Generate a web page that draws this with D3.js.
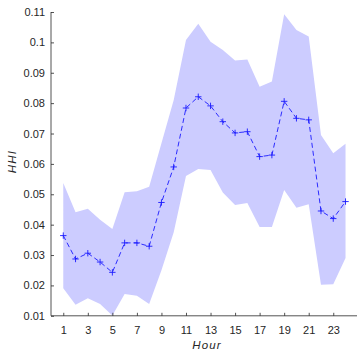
<!DOCTYPE html>
<html>
<head>
<meta charset="utf-8">
<script src="https://cdn.jsdelivr.net/npm/d3@7"></script>
<style>
  html, body { margin: 0; padding: 0; background: #ffffff; }
  svg { display: block; }
  text { font-family: "Liberation Sans", Arial, Helvetica, sans-serif; }
</style>
</head>
<body>
<svg id="chart" width="357" height="351"></svg>
<script>
// Hourly HHI: mean with lower/upper envelope
const hours = d3.range(1, 25);
const meanHHI = [0.0364, 0.0287, 0.0306, 0.0277, 0.0243, 0.0340, 0.0340, 0.0329,
                 0.0473, 0.0590, 0.0784, 0.0821, 0.0791, 0.0739, 0.0702, 0.0706,
                 0.0624, 0.0629, 0.0806, 0.0750, 0.0745, 0.0445, 0.0420, 0.0476];
const upperHHI = [0.0537, 0.0441, 0.0452, 0.0416, 0.0386, 0.0507, 0.0510, 0.0525,
                  0.0668, 0.0810, 0.1008, 0.1061, 0.1002, 0.0975, 0.0940, 0.0944,
                  0.0854, 0.0871, 0.1093, 0.1041, 0.1019, 0.0695, 0.0635, 0.0666];
const lowerHHI = [0.0191, 0.0136, 0.0158, 0.0139, 0.0101, 0.0172, 0.0166, 0.0139,
                  0.0250, 0.0375, 0.0560, 0.0583, 0.0580, 0.0506, 0.0465, 0.0471,
                  0.0392, 0.0392, 0.0514, 0.0456, 0.0467, 0.0202, 0.0204, 0.0290];
const xTicks = [1, 3, 5, 7, 9, 11, 13, 15, 17, 19, 21, 23];
const yTicks = [0.01, 0.02, 0.03, 0.04, 0.05, 0.06, 0.07, 0.08, 0.09, 0.1, 0.11];

const svg = d3.select("#chart");
const axisColor = "#262626";

const x = d3.scaleLinear().domain([0, 25]).range([51, 357.8]);
const y = d3.scaleLinear().domain([0.01, 0.11]).range([315.8, 12]);

const rows = hours.map((h, i) => ({ h, m: meanHHI[i], lo: lowerHHI[i], hi: upperHHI[i] }));

// envelope
svg.append("path")
  .datum(rows)
  .attr("fill", "#ccccff")
  .attr("stroke", "none")
  .attr("d", d3.area().x(d => x(d.h)).y0(d => y(d.lo)).y1(d => y(d.hi)));

// mean line
svg.append("path")
  .datum(rows)
  .attr("fill", "none")
  .attr("stroke", "#1a1aff")
  .attr("stroke-width", 0.9)
  .attr("stroke-dasharray", "5,3")
  .attr("d", d3.line().x(d => x(d.h)).y(d => y(d.m)));

// plus markers
const ms = 3.2;
svg.append("g").selectAll("path")
  .data(rows)
  .join("path")
  .attr("stroke", "#1a1aff")
  .attr("stroke-width", 0.9)
  .attr("fill", "none")
  .attr("d", d => {
    const cx = x(d.h), cy = y(d.m);
    return `M${cx - ms},${cy}H${cx + ms}M${cx},${cy - ms}V${cy + ms}`;
  });

// axes
const xAxis = d3.axisBottom(x).tickValues(xTicks).tickSize(-3).tickPadding(10).tickFormat(d3.format("d"));
const yAxis = d3.axisLeft(y).tickValues(yTicks).tickSize(-3).tickPadding(6).tickFormat(d => String(+d.toFixed(2)));

const gx = svg.append("g").attr("transform", `translate(0,${y(0.01)})`).call(xAxis);
const gy = svg.append("g").attr("transform", `translate(${x(0)},0)`).call(yAxis);

[gx, gy].forEach(g => {
  g.select(".domain").attr("stroke", axisColor).attr("stroke-width", 0.8);
  g.selectAll(".tick line").attr("stroke", axisColor).attr("stroke-width", 0.8);
  g.selectAll(".tick text").attr("fill", axisColor).style("font-size", "11px")
    .style("font-family", "'Liberation Sans', Arial, sans-serif");
});
gx.select(".domain").attr("d", `M${x(0)},0H${x(25)}`);
gy.select(".domain").attr("d", `M0,${y(0.01)}V${y(0.11)}`);

// axis titles
svg.append("text")
  .attr("x", 207)
  .attr("y", 349)
  .attr("text-anchor", "middle")
  .attr("fill", axisColor)
  .style("font-size", "11.5px")
  .style("letter-spacing", "1.2px")
  .style("font-style", "italic")
  .text("Hour");

svg.append("text")
  .attr("transform", `translate(15.5,161.5) rotate(-90)`)
  .attr("text-anchor", "middle")
  .attr("fill", axisColor)
  .style("font-size", "11.5px")
  .style("letter-spacing", "1.2px")
  .style("font-style", "italic")
  .text("HHI");
</script>
</body>
</html>
